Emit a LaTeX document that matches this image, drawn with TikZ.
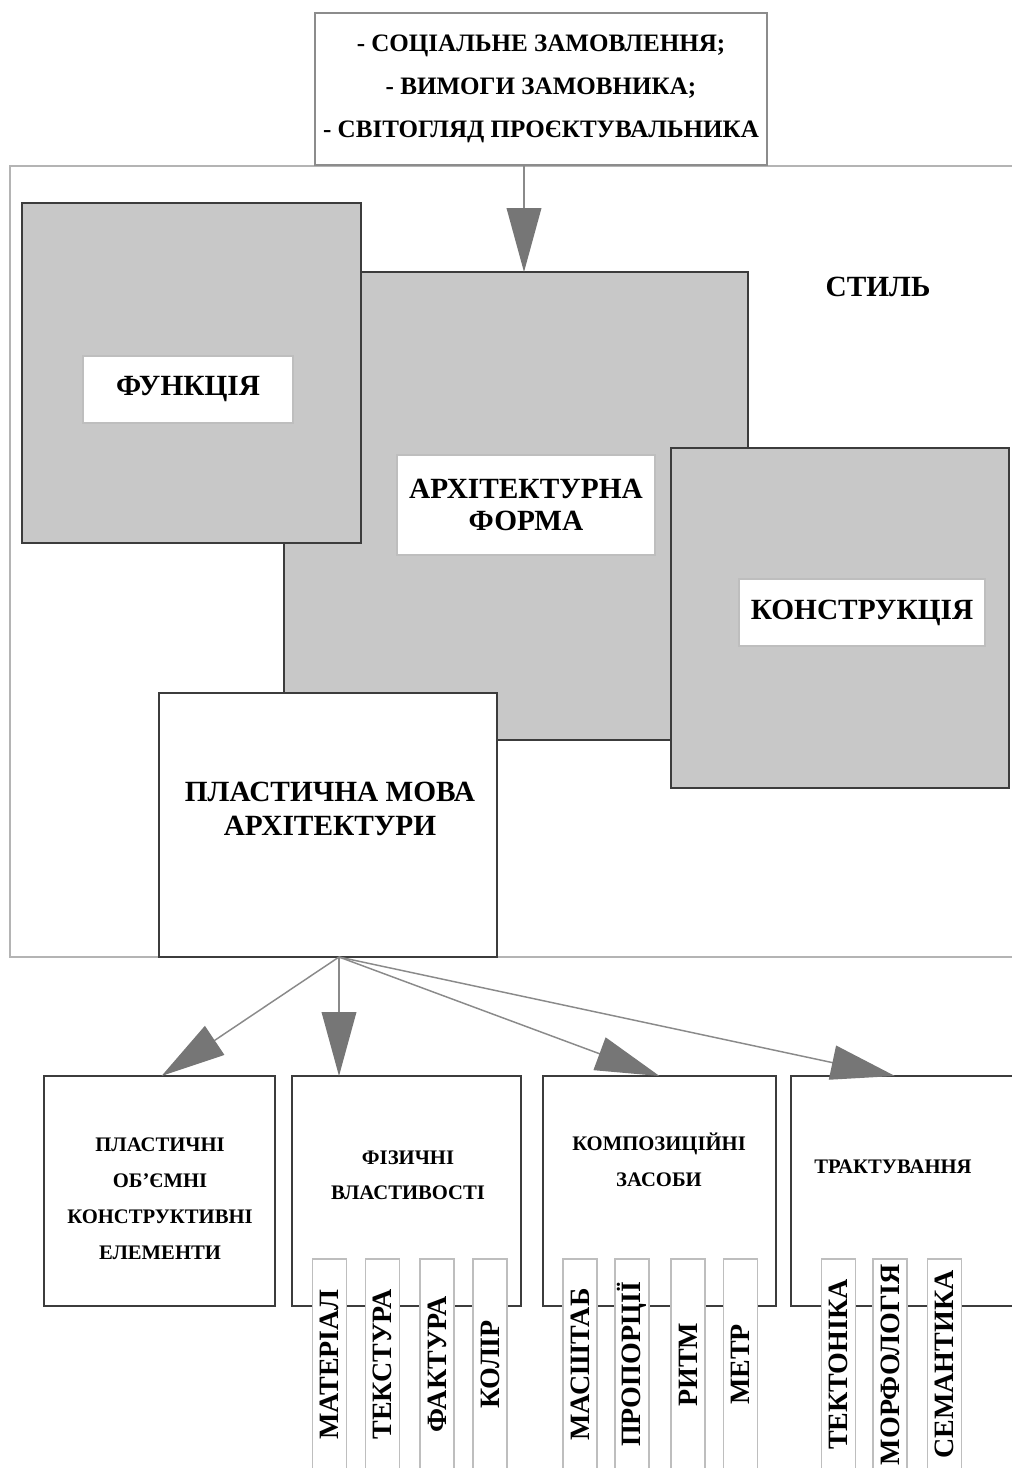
\documentclass[tikz,border=0pt]{standalone}
\usepackage{fontspec}
\setmainfont{Liberation Serif}
\usetikzlibrary{arrows.meta}
\definecolor{boxgray}{HTML}{C8C8C8}
\definecolor{darkline}{HTML}{3C3C3C}
\definecolor{stylegray}{HTML}{B4B4B4}
\definecolor{topgray}{HTML}{8C8C8C}
\definecolor{lblgray}{HTML}{BEBEBE}
\definecolor{arrline}{HTML}{8A8A8A}
\definecolor{arrhead}{HTML}{767676}
\begin{document}
\begin{tikzpicture}[x=0.75pt,y=-0.75pt,
  every node/.style={inner sep=0pt, outer sep=0pt, rectangle},
  stilbox/.style={draw=stylegray, line width=1.6pt, fill=white},
  topbox/.style={draw=topgray, line width=1.3pt, fill=white},
  graybox/.style={draw=darkline, line width=1.5pt, fill=boxgray},
  whitebox/.style={draw=darkline, line width=1.5pt, fill=white},
  lblbox/.style={draw=lblgray, line width=1pt, fill=white},
  vlbl/.style={draw=lblgray, line width=1pt, fill=white, rotate=90,
     minimum width=158.25pt, minimum height=25.5pt,
     font=\bfseries\fontsize{21}{24}\selectfont},
  bigtxt/.style={font=\bfseries\fontsize{22}{24}\selectfont, align=center},
  smalltxt/.style={font=\bfseries\fontsize{15.5}{27}\selectfont, align=center},
  arr/.style={draw=arrline, line width=1.1pt,
     -{Triangle[length=48pt,width=26pt,color=arrhead]}}
]
\useasboundingbox (0,0) rectangle (1012,1468);

% style frame
\node[stilbox, minimum width=757.5pt, minimum height=593.25pt] (stil) at (515,561.5) {};
\node[bigtxt] (stiltext) at (878,287) {СТИЛЬ};

% top box
\node[topbox, minimum width=339pt, minimum height=114pt, align=center,
      font=\bfseries\fontsize{18.8}{32}\selectfont] (top) at (541,89)
  {- СОЦІАЛЬНЕ ЗАМОВЛЕННЯ;\\- ВИМОГИ ЗАМОВНИКА;\\- СВІТОГЛЯД ПРОЄКТУВАЛЬНИКА};

% architectural form
\node[graybox, minimum width=348pt, minimum height=351pt] (form) at (516,506) {};
\node[lblbox, minimum width=193.5pt, minimum height=75pt, bigtxt] (formlbl) at (526,505) {АРХІТЕКТУРНА\\ФОРМА};

% function
\node[graybox, minimum width=254.25pt, minimum height=255pt] (func) at (191.5,373) {};
\node[lblbox, minimum width=157.5pt, minimum height=50.25pt, bigtxt] (funclbl) at (188,389.5) {ФУНКЦІЯ};

% construction
\node[graybox, minimum width=253.5pt, minimum height=255pt] (konstr) at (840,618) {};
\node[lblbox, minimum width=184.5pt, minimum height=50.25pt, bigtxt] (konstrlbl) at (862,612.5) {КОНСТРУКЦІЯ};

% plastic language
\node[whitebox, minimum width=253.5pt, minimum height=198pt] (plast) at (328,825) {};
\node[bigtxt, font=\bfseries\fontsize{22}{25.5}\selectfont] (plasttext) at (330,809) {ПЛАСТИЧНА МОВА\\АРХІТЕКТУРИ};

% arrow from top
\draw[arr] ([xshift=-12.75pt]top.south) -- ([xshift=6pt]form.north);

% bottom boxes
\node[whitebox, minimum width=173.25pt, minimum height=172.5pt] (b1) at (159.5,1191) {};
\node[whitebox, minimum width=171.75pt, minimum height=172.5pt] (b2) at (406.5,1191) {};
\node[whitebox, minimum width=174.75pt, minimum height=172.5pt] (b3) at (659.5,1191) {};
\node[whitebox, minimum width=180pt, minimum height=172.5pt] (b4) at (911,1191) {};

\node[smalltxt] (b1text) at (160,1199) {ПЛАСТИЧНІ\\ОБ'ЄМНІ\\КОНСТРУКТИВНІ\\ЕЛЕМЕНТИ};
\node[smalltxt, font=\bfseries\fontsize{15.5}{26.5}\selectfont] (b2text) at (408,1175) {ФІЗИЧНІ\\ВЛАСТИВОСТІ};
\node[smalltxt] (b3text) at (659,1160) {КОМПОЗИЦІЙНІ\\ЗАСОБИ};
\node[smalltxt] (b4text) at (893,1167) {ТРАКТУВАННЯ};

% arrows to bottom boxes
\coordinate (src) at ([xshift=8.25pt]plast.south);
\draw[arr] (src) -- ([xshift=1.5pt]b1.north);
\draw[arr] (src) -- ([xshift=35.25pt]b2.north west);
\draw[arr] (src) -- (b3.north);
\draw[arr] (src) -- ([xshift=78pt]b4.north west);

% vertical labels
\node[vlbl] (v1) at (329.5,1364.5) {МАТЕРІАЛ};
\node[vlbl] (v2) at (382.5,1364.5) {ТЕКСТУРА};
\node[vlbl] (v3) at (437,1364.5) {ФАКТУРА};
\node[vlbl] (v4) at (490,1364.5) {КОЛІР};
\node[vlbl] (v5) at (580,1364.5) {МАСШТАБ};
\node[vlbl] (v6) at (632,1364.5) {ПРОПОРЦІЇ};
\node[vlbl] (v7) at (688,1364.5) {РИТМ};
\node[vlbl] (v8) at (740.5,1364.5) {МЕТР};
\node[vlbl] (v9) at (838.5,1364.5) {ТЕКТОНІКА};
\node[vlbl] (v10) at (890,1364.5) {МОРФОЛОГІЯ};
\node[vlbl] (v11) at (944.5,1364.5) {СЕМАНТИКА};
\end{tikzpicture}
\end{document}
